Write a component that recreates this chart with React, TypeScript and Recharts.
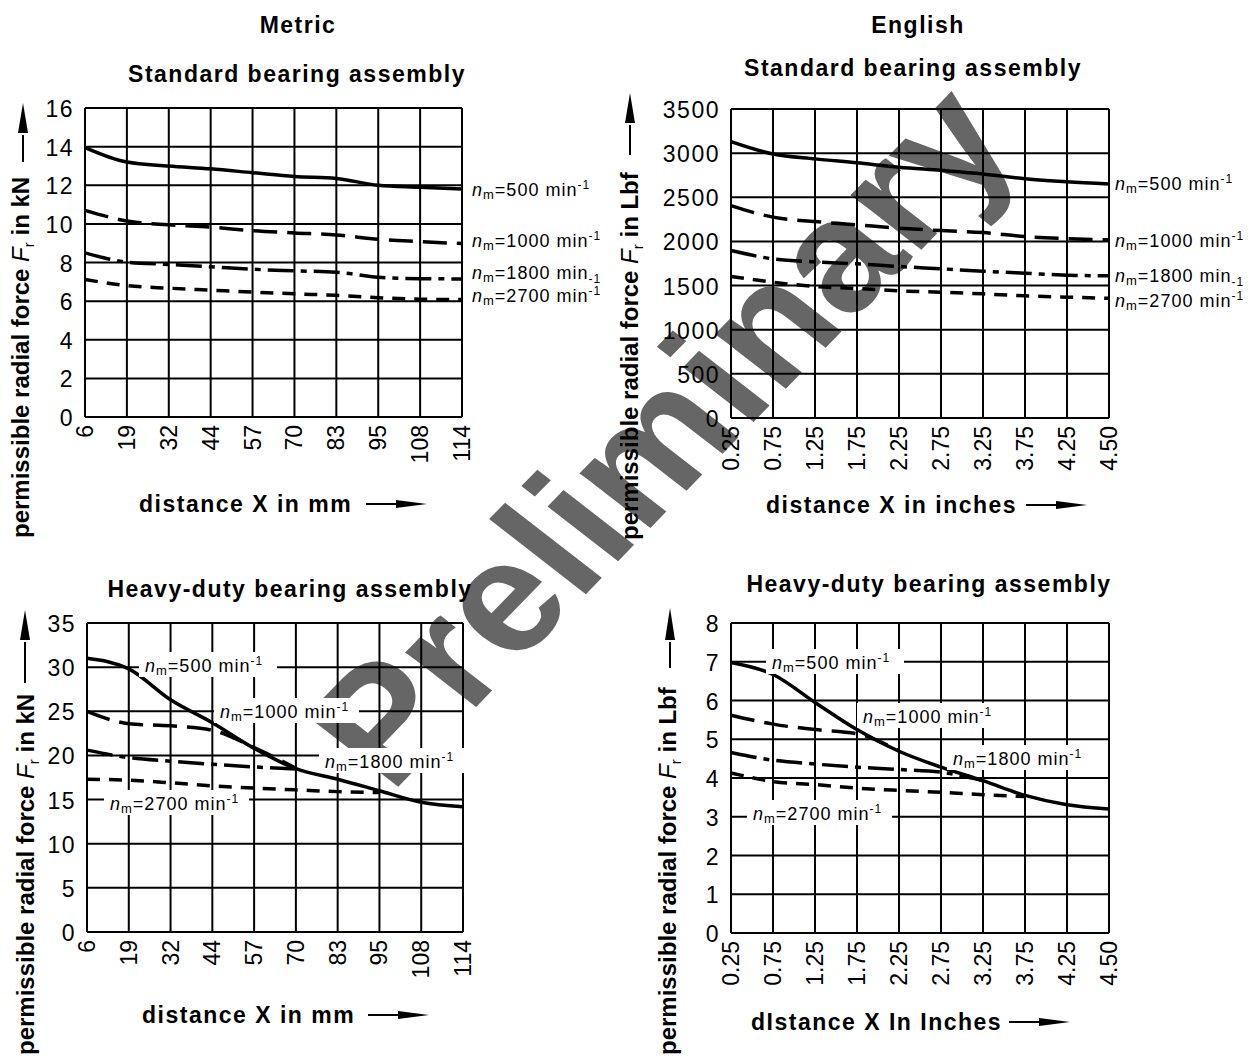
import React from 'react';
import { LineChart, Line, XAxis, YAxis, CartesianGrid } from 'recharts';

const FONT = "'Liberation Sans', Arial, Helvetica, sans-serif";

// distance categories
const mmTicks = ['6', '19', '32', '44', '57', '70', '83', '95', '108', '114'];
const inchTicks = ['0.25', '0.75', '1.25', '1.75', '2.25', '2.75', '3.25', '3.75', '4.25', '4.50'];

// force ticks
const kNStdTicks = [0, 2, 4, 6, 8, 10, 12, 14, 16];
const lbfStdTicks = [0, 500, 1000, 1500, 2000, 2500, 3000, 3500];
const kNHeavyTicks = [0, 5, 10, 15, 20, 25, 30, 35];
const lbfHeavyTicks = [0, 1, 2, 3, 4, 5, 6, 7, 8];

// metric, standard bearing assembly (kN)
const stdKn500 = [13.95, 13.2, 13.0, 12.85, 12.65, 12.45, 12.35, 12.0, 11.9, 11.8];
const stdKn1000 = [10.7, 10.15, 9.95, 9.83, 9.65, 9.53, 9.43, 9.2, 9.08, 8.98];
const stdKn1800 = [8.5, 8.02, 7.9, 7.78, 7.65, 7.57, 7.5, 7.24, 7.16, 7.15];
const stdKn2700 = [7.12, 6.8, 6.67, 6.57, 6.47, 6.38, 6.3, 6.18, 6.1, 6.08];

// english, standard bearing assembly (Lbf)
const stdLbf500 = [3130, 2990, 2935, 2890, 2840, 2805, 2765, 2710, 2675, 2650];
const stdLbf1000 = [2405, 2275, 2225, 2188, 2150, 2123, 2100, 2055, 2032, 2018];
const stdLbf1800 = [1897, 1802, 1768, 1746, 1716, 1690, 1663, 1640, 1618, 1610];
const stdLbf2700 = [1603, 1538, 1490, 1467, 1440, 1425, 1406, 1384, 1369, 1355];

// metric, heavy-duty bearing assembly (kN)
const hdKn500 = [31.0, 29.8, 26.3, 23.7, 20.8, 18.5, 17.3, 16.0, 14.7, 14.2];
const hdKn1000 = [25.0, 23.6, 23.35, 22.85, 20.9, 18.55, null, null, null, null];
const hdKn1800 = [20.6, 19.75, 19.35, 19.0, 18.7, 18.45, null, null, null, null];
const hdKn2700 = [17.3, 17.2, 16.9, 16.55, 16.3, 16.1, 15.9, 15.8, null, null];

// english, heavy-duty bearing assembly
const hdLbf500 = [6.98, 6.67, 5.95, 5.25, 4.69, 4.28, 3.93, 3.55, 3.31, 3.2];
const hdLbf1000 = [5.62, 5.39, 5.25, 5.14, 4.7, null, null, null, null, null];
const hdLbf1800 = [4.66, 4.46, 4.36, 4.28, 4.22, 4.15, 3.93, null, null, null];
const hdLbf2700 = [4.13, 3.91, 3.83, 3.74, 3.68, 3.63, 3.57, 3.52, null, null];

const buildRows = (xs: string[], a: any[], b: any[], c: any[], d: any[]) =>
  xs.map((x, i) => ({ x, n500: a[i], n1000: b[i], n1800: c[i], n2700: d[i] }));

const stdMetricRows = buildRows(mmTicks, stdKn500, stdKn1000, stdKn1800, stdKn2700);
const stdEnglishRows = buildRows(inchTicks, stdLbf500, stdLbf1000, stdLbf1800, stdLbf2700);
const hdMetricRows = buildRows(mmTicks, hdKn500, hdKn1000, hdKn1800, hdKn2700);
const hdEnglishRows = buildRows(inchTicks, hdLbf500, hdLbf1000, hdLbf1800, hdLbf2700);

const XTick = ({ x, y, payload }: any) => (
  <text
    x={x}
    y={y}
    dy={8}
    transform={`rotate(-90 ${x} ${y})`}
    textAnchor="end"
    fontSize={23}
    fontFamily={FONT}
    fill="#000"
  >
    {payload.value}
  </text>
);

const YTick = ({ x, y, payload }: any) => (
  <text x={x - 3} y={y} dy={9} textAnchor="end" fontSize={23} letterSpacing={1.5} fontFamily={FONT} fill="#000">
    {payload.value}
  </text>
);

const Panel = ({ left, top, plotW, plotH, rows, ticks }: any) => (
  <div style={{ position: 'absolute', left: left - 85, top: top - 20 }}>
    <LineChart
      width={85 + plotW + 15}
      height={20 + plotH + 60}
      data={rows}
      margin={{ top: 20, right: 15, left: 0, bottom: 0 }}
    >
      <CartesianGrid stroke="#000" strokeWidth={2} />
      <XAxis
        dataKey="x"
        type="category"
        scale="point"
        padding={{ left: 0, right: 0 }}
        interval={0}
        height={60}
        axisLine={{ stroke: '#000', strokeWidth: 2 }}
        tickLine={false}
        tick={<XTick />}
      />
      <YAxis
        type="number"
        domain={[0, ticks[ticks.length - 1]]}
        ticks={ticks}
        interval={0}
        width={85}
        axisLine={{ stroke: '#000', strokeWidth: 2 }}
        tickLine={false}
        tick={<YTick />}
      />
      <Line dataKey="n2700" type="monotone" stroke="#000" strokeWidth={3.5} strokeDasharray="13 9" dot={false} isAnimationActive={false} />
      <Line dataKey="n1800" type="monotone" stroke="#000" strokeWidth={3.5} strokeDasharray="26 7 6 7" dot={false} isAnimationActive={false} />
      <Line dataKey="n1000" type="monotone" stroke="#000" strokeWidth={3.5} strokeDasharray="24 10" dot={false} isAnimationActive={false} />
      <Line dataKey="n500" type="monotone" stroke="#000" strokeWidth={3.5} dot={false} isAnimationActive={false} />
    </LineChart>
  </div>
);

const SpeedLabel = ({ x, y, speed, low, bg }: any) => (
  <g>
    {bg && <rect x={x - 6} y={y - 20} width={speed.length === 3 ? 138 : 145} height={25} fill="#fff" />}
    <text x={x} y={y} fontSize={18} letterSpacing={1} fontFamily={FONT} fill="#000">
      <tspan fontStyle="italic">n</tspan>
      <tspan fontSize={13} dy={3}>m</tspan>
      <tspan dy={-3}>{`=${speed} min`}</tspan>
      <tspan fontSize={12} dy={low ? 4 : -7}>-1</tspan>
    </text>
  </g>
);

const Title = ({ x, y, children }: any) => (
  <text x={x} y={y} textAnchor="middle" fontSize={23} fontWeight="bold" letterSpacing={1.5} fontFamily={FONT} fill="#000">
    {children}
  </text>
);

const XTitle = ({ x, y, text, ax, ay }: any) => (
  <g>
    <text x={x} y={y} fontSize={23} fontWeight="bold" letterSpacing={1.5} fontFamily={FONT} fill="#000">
      {text}
    </text>
    <line x1={ax} y1={ay} x2={ax + 32} y2={ay} stroke="#000" strokeWidth={2} />
    <polygon points={`${ax + 30},${ay - 4} ${ax + 61},${ay} ${ax + 30},${ay + 4}`} fill="#000" />
  </g>
);

const YTitle = ({ x, y, unit, ax, lineFrom, headBase, top }: any) => (
  <g>
    <text x={x} y={y} transform={`rotate(-90 ${x} ${y})`} fontSize={24} fontWeight="bold" fontFamily={FONT} fill="#000">
      {'permissible radial force '}
      <tspan fontStyle="italic" fontWeight="normal">F</tspan>
      <tspan fontWeight="normal" fontSize={15} dy={5}>r</tspan>
      <tspan dy={-5}>{` in ${unit}`}</tspan>
    </text>
    <line x1={ax} y1={lineFrom} x2={ax} y2={headBase + 2} stroke="#000" strokeWidth={2} />
    <polygon points={`${ax - 5},${headBase} ${ax},${top} ${ax + 5},${headBase}`} fill="#000" />
  </g>
);

export default function App() {
  return (
    <div style={{ position: 'absolute', left: 0, top: 0, width: 1256, height: 1057, background: '#fff', overflow: 'hidden' }}>
      <svg width={1256} height={1057} style={{ position: 'absolute', left: 0, top: 0 }}>
        <g transform="scale(1.12 1)">
          <text
            x={631}
            y={470}
            transform="rotate(-49 631 470)"
            textAnchor="middle"
            fontSize={158}
            fontWeight="bold"
            fontFamily={FONT}
            fill="#666"
          >
            Preliminary
          </text>
        </g>
      </svg>

      <Panel left={85} top={108} plotW={377} plotH={309} rows={stdMetricRows} ticks={kNStdTicks} />
      <Panel left={731} top={109} plotW={378} plotH={309} rows={stdEnglishRows} ticks={lbfStdTicks} />
      <Panel left={87} top={623} plotW={376} plotH={309} rows={hdMetricRows} ticks={kNHeavyTicks} />
      <Panel left={731} top={623} plotW={378} plotH={310} rows={hdEnglishRows} ticks={lbfHeavyTicks} />

      <svg width={1256} height={1057} style={{ position: 'absolute', left: 0, top: 0, pointerEvents: 'none' }}>
        <Title x={298} y={33}>Metric</Title>
        <Title x={918} y={33}>English</Title>
        <Title x={297} y={82}>Standard bearing assembly</Title>
        <Title x={913} y={76}>Standard bearing assembly</Title>
        <Title x={290} y={597}>Heavy-duty bearing assembly</Title>
        <Title x={929} y={592}>Heavy-duty bearing assembly</Title>

        <XTitle x={139} y={512} text="distance X in mm" ax={366} ay={504} />
        <XTitle x={766} y={513} text="distance X in inches" ax={1026} ay={505} />
        <XTitle x={142} y={1023} text="distance X in mm" ax={368} ay={1015} />
        <XTitle x={751} y={1030} text="dIstance X In Inches" ax={1009} ay={1022} />

        <YTitle x={29} y={538} unit="kN" ax={23} lineFrom={162} headBase={133} top={103} />
        <YTitle x={638} y={540} unit="Lbf" ax={630} lineFrom={155} headBase={123} top={93} />
        <YTitle x={34} y={1055} unit="kN" ax={25} lineFrom={683} headBase={640} top={610} />
        <YTitle x={676} y={1055} unit="Lbf" ax={670} lineFrom={668} headBase={640} top={608} />

        <SpeedLabel x={472} y={196} speed="500" />
        <SpeedLabel x={472} y={247} speed="1000" />
        <SpeedLabel x={472} y={279} speed="1800" low />
        <SpeedLabel x={472} y={302} speed="2700" />

        <SpeedLabel x={1115} y={190} speed="500" />
        <SpeedLabel x={1115} y={247} speed="1000" />
        <SpeedLabel x={1115} y={282} speed="1800" low />
        <SpeedLabel x={1115} y={307} speed="2700" />

        <SpeedLabel x={145} y={672} speed="500" bg />
        <SpeedLabel x={220} y={718} speed="1000" bg />
        <SpeedLabel x={325} y={768} speed="1800" bg />
        <SpeedLabel x={110} y={810} speed="2700" bg />

        <SpeedLabel x={772} y={669} speed="500" bg />
        <SpeedLabel x={863} y={723} speed="1000" bg />
        <SpeedLabel x={953} y={765} speed="1800" bg />
        <SpeedLabel x={753} y={820} speed="2700" bg />
      </svg>
    </div>
  );
}
